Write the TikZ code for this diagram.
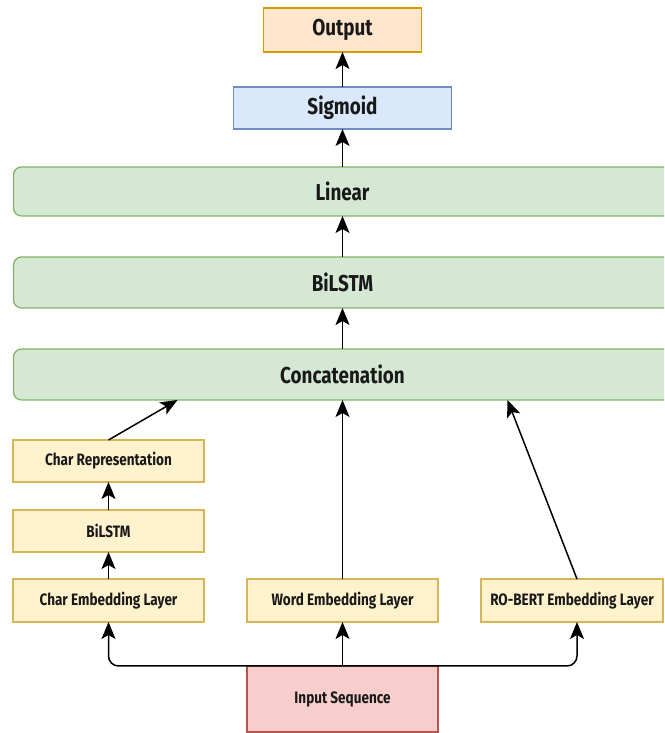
\documentclass[tikz,border=0pt]{standalone}
\usepackage{fontspec}
\setmainfont{Fira Sans}[FakeStretch=0.82]
\usepackage{tikz}
\usetikzlibrary{arrows.meta, positioning, calc}
\definecolor{orfill}{HTML}{FFE6CC}\definecolor{ordraw}{HTML}{D79B00}
\definecolor{blfill}{HTML}{DAE8FC}\definecolor{bldraw}{HTML}{6C8EBF}
\definecolor{grfill}{HTML}{D5E8D4}\definecolor{grdraw}{HTML}{82B366}
\definecolor{yefill}{HTML}{FFF2CC}\definecolor{yedraw}{HTML}{D6B656}
\definecolor{rdfill}{HTML}{F8CECC}\definecolor{rddraw}{HTML}{B85450}

\begin{document}
\begin{tikzpicture}[x=1pt, y=1pt, >={Stealth[length=17pt, width=14pt, inset=4pt]},
  box/.style={draw, line width=1.3pt, inner sep=0pt, outer sep=0pt, align=center, text=black!90, font=\fontsize{16.5}{19}\selectfont\bfseries},
  bigbox/.style={box, font=\fontsize{23}{27}\selectfont\bfseries},
  smallbox/.style={box, fill=yefill, draw=yedraw, minimum width=191pt, minimum height=43pt},
  layerbox/.style={bigbox, fill=grfill, draw=grdraw, rounded corners=8pt, minimum width=658pt, minimum height=51pt},
  flow/.style={->, line width=1.5pt}]
\useasboundingbox (0,0) rectangle (664,733);
\clip (0,0) rectangle (664,733);

\node[box, fill=rdfill, draw=rddraw, minimum width=191pt, minimum height=66pt] (input) at (342.5,34) {Input Sequence};
\node[smallbox, above=44pt of input] (wordemb) {Word Embedding Layer};
\node[smallbox, left=43pt of wordemb] (charemb) {Char Embedding Layer};
\node[smallbox, right=43pt of wordemb, minimum width=182pt] (bertemb) {RO-BERT Embedding Layer};
\node[smallbox, above=27pt of charemb, minimum height=42pt] (charlstm) {BiLSTM};
\node[smallbox, above=28pt of charlstm, minimum height=42pt] (charrep) {Char Representation};
\node[layerbox, above=179pt of wordemb] (concat) {Concatenation};
\node[layerbox, above=41pt of concat] (bilstm) {BiLSTM};
\node[layerbox, above=41pt of bilstm, minimum height=49pt] (linear) {Linear};
\node[bigbox, fill=blfill, draw=bldraw, minimum width=218pt, minimum height=42pt, above=38pt of linear] (sigmoid) {Sigmoid};
\node[bigbox, fill=orfill, draw=ordraw, minimum width=158pt, minimum height=44pt, above=35pt of sigmoid] (output) {Output};

% inputs to embeddings
\draw[flow] (input) -- (wordemb);
\draw[flow, rounded corners=10pt] (input.north) -| (charemb.south);
\draw[flow, rounded corners=10pt] (input.north) -| ([xshift=5pt]bertemb.south);

% char branch
\draw[flow] (charemb) -- (charlstm);
\draw[flow] (charlstm) -- (charrep);
\draw[flow] (charrep.north) -- ([xshift=-165pt]concat.south);
\draw[flow] (wordemb) -- (concat);
\draw[flow] ([xshift=5pt]bertemb.north) -- ([xshift=165pt]concat.south);

% stack
\draw[flow] (concat) -- (bilstm);
\draw[flow] (bilstm) -- (linear);
\draw[flow] (linear) -- (sigmoid);
\draw[flow] (sigmoid) -- (output);
\end{tikzpicture}
\end{document}
